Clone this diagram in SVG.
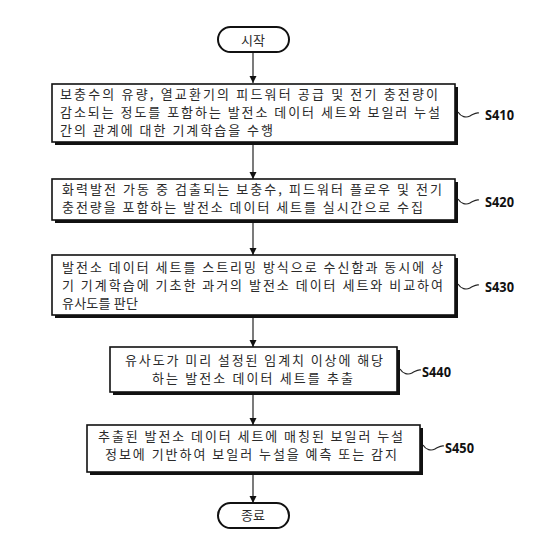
<svg xmlns="http://www.w3.org/2000/svg" width="553" height="553" viewBox="0 0 553 553">
<style>
.box{fill:#fff;stroke:#111;stroke-width:1.6}
.sh{fill:#111}
.term{fill:#fff;stroke:#111;stroke-width:2}
.t{font-family:"Noto Sans CJK KR","Noto Sans",sans-serif;font-size:13px;fill:#2a2a2a}
.tc{font-family:"Noto Sans CJK KR","Noto Sans",sans-serif;font-size:13px;fill:#2a2a2a;text-anchor:middle}
.lbl{font-family:"Open Sans","Liberation Sans",sans-serif;font-size:15px;font-weight:bold;fill:#111}
.wave{fill:none;stroke:#222;stroke-width:1.2}
.conn{stroke:#222;stroke-width:1.2;fill:none}
</style>
<defs>
<marker id="ah" viewBox="0 0 10 10" refX="10" refY="5" markerWidth="7" markerHeight="9" orient="auto" markerUnits="userSpaceOnUse">
<path d="M0,0 L10,5 L0,10 Z" fill="#111"/>
</marker>
</defs>
<rect width="553" height="553" fill="#fff"/>
<g id="connectors">
<line class="conn" x1="253" y1="52" x2="253" y2="83" marker-end="url(#ah)"/>
<line class="conn" x1="253" y1="144" x2="253" y2="179" marker-end="url(#ah)"/>
<line class="conn" x1="253" y1="222" x2="253" y2="255" marker-end="url(#ah)"/>
<line class="conn" x1="253" y1="317" x2="253" y2="347" marker-end="url(#ah)"/>
<line class="conn" x1="253" y1="394" x2="253" y2="425" marker-end="url(#ah)"/>
<line class="conn" x1="253" y1="474" x2="253" y2="503" marker-end="url(#ah)"/>
</g>
<g id="start">
<rect class="term" x="218" y="27" width="71" height="25" rx="12.5"/>
<text class="tc" x="253" y="45">시작</text>
</g>
<g id="s410">
<rect class="sh" x="55" y="87" width="403" height="58"/>
<rect class="box" x="52" y="84" width="403" height="58"/>
<text class="t" x="60" y="99" textLength="378" lengthAdjust="spacing">보충수의 유량, 열교환기의 피드워터 공급 및 전기 충전량이</text>
<text class="t" x="60" y="117" textLength="380" lengthAdjust="spacing">감소되는 정도를 포함하는 발전소 데이터 세트와 보일러 누설</text>
<text class="t" x="60" y="135" textLength="213" lengthAdjust="spacing">간의 관계에 대한 기계학습을 수행</text>
<path class="wave" d="M458 112 C461 117 466 118 470 116 S476 112 479 113"/>
<text class="lbl" x="485" y="120" textLength="29" lengthAdjust="spacingAndGlyphs">S410</text>
</g>
<g id="s420">
<rect class="sh" x="55" y="182" width="403" height="41"/>
<rect class="box" x="52" y="179" width="403" height="41"/>
<text class="t" x="62" y="194" textLength="380" lengthAdjust="spacing">화력발전 가동 중 검출되는 보충수, 피드워터 플로우 및 전기</text>
<text class="t" x="62" y="212" textLength="361" lengthAdjust="spacing">충전량을 포함하는 발전소 데이터 세트를 실시간으로 수집</text>
<path class="wave" d="M458 199 C461 204 466 205 470 203 S476 199 479 200"/>
<text class="lbl" x="485" y="207" textLength="29" lengthAdjust="spacingAndGlyphs">S420</text>
</g>
<g id="s430">
<rect class="sh" x="55" y="258" width="403" height="60"/>
<rect class="box" x="52" y="255" width="403" height="60"/>
<text class="t" x="62" y="272" textLength="381" lengthAdjust="spacing">발전소 데이터 세트를 스트리밍 방식으로 수신함과 동시에 상</text>
<text class="t" x="62" y="290" textLength="381" lengthAdjust="spacing">기 기계학습에 기초한 과거의 발전소 데이터 세트와 비교하여</text>
<text class="t" x="62" y="308" textLength="76" lengthAdjust="spacing">유사도를 판단</text>
<path class="wave" d="M458 284 C461 289 466 290 470 288 S476 284 479 285"/>
<text class="lbl" x="485" y="292" textLength="29" lengthAdjust="spacingAndGlyphs">S430</text>
</g>
<g id="s440">
<rect class="sh" x="113" y="350" width="287" height="45"/>
<rect class="box" x="110" y="347" width="287" height="45"/>
<text class="t" x="125" y="365" textLength="258" lengthAdjust="spacing">유사도가 미리 설정된 임계치 이상에 해당</text>
<text class="t" x="152" y="383" textLength="201" lengthAdjust="spacing">하는 발전소 데이터 세트를 추출</text>
<path class="wave" d="M400 369 C403 374 408 375 412 373 S418 369 421 370"/>
<text class="lbl" x="422" y="377" textLength="29" lengthAdjust="spacingAndGlyphs">S440</text>
</g>
<g id="s450">
<rect class="sh" x="90" y="428" width="333" height="47"/>
<rect class="box" x="87" y="425" width="333" height="47"/>
<text class="t" x="98" y="441" textLength="305" lengthAdjust="spacing">추출된 발전소 데이터 세트에 매칭된 보일러 누설</text>
<text class="t" x="105" y="459" textLength="292" lengthAdjust="spacing">정보에 기반하여 보일러 누설을 예측 또는 감지</text>
<path class="wave" d="M423 445 C426 450 431 451 435 449 S441 445 444 446"/>
<text class="lbl" x="445" y="453" textLength="29" lengthAdjust="spacingAndGlyphs">S450</text>
</g>
<g id="end">
<rect class="term" x="218" y="503" width="71" height="25" rx="12.5"/>
<text class="tc" x="253" y="520">종료</text>
</g>
</svg>
